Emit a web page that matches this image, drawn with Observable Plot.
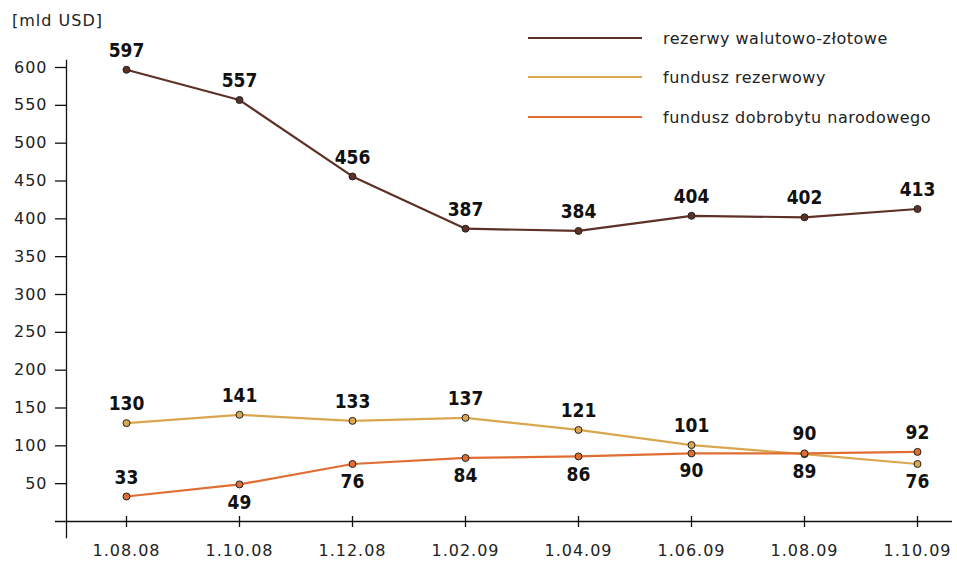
<!DOCTYPE html>
<html><head><meta charset="utf-8">
<script src="https://cdn.jsdelivr.net/npm/d3@7"></script>
<script src="https://cdn.jsdelivr.net/npm/@observablehq/plot@0.6"></script>
<style>
body{margin:0;background:#fff;}
#wrap{position:relative;width:957px;height:565px;font-family:"DejaVu Sans",sans-serif;}
.unit{position:absolute;left:12px;top:11px;font-size:16px;letter-spacing:1px;color:#222;line-height:20px;}
.legend{position:absolute;left:528px;top:0;}
.item{position:absolute;left:0;display:flex;align-items:center;white-space:nowrap;font-size:16px;letter-spacing:0.5px;color:#222;height:20px;}
.item .sw{width:114px;height:0;border-top:2.5px solid;margin-right:21px;}
g[aria-label$="tick label"] text{letter-spacing:1px;}
</style></head>
<body><div id="wrap"></div>
<script>
const dates = ["1.08.08","1.10.08","1.12.08","1.02.09","1.04.09","1.06.09","1.08.09","1.10.09"];
const seriesNames = ["rezerwy walutowo-złotowe","fundusz rezerwowy","fundusz dobrobytu narodowego"];
const rezerwy = [597,557,456,387,384,404,402,413];
const rezerwowy = [130,141,133,137,121,101,89,76];
const dobrobytu = [33,49,76,84,86,90,90,92];
const yTicks = [50,100,150,200,250,300,350,400,450,500,550,600];
const unitLabel = "[mld USD]";

const colors = ["#5e3126","#d8a74f","#e06e33"];
// which labels sit below their point (series index -> date indexes)
const below = [[], [6,7], [1,2,3,4,5]];

const seriesValues = [rezerwy, rezerwowy, dobrobytu];
const rows = [];
seriesValues.forEach((vals, s) => vals.forEach((v, i) => rows.push({
  series: seriesNames[s], date: dates[i], value: v, below: below[s].includes(i)
})));

const labelStyle = {fontFamily:"'DejaVu Sans Condensed','DejaVu Sans',sans-serif", fontWeight:"bold", fontSize:19, fill:"#111"};

const plot = Plot.plot({
  width:957, height:565, marginLeft:66, marginRight:5, marginTop:60, marginBottom:28,
  style:{fontFamily:"'DejaVu Sans',sans-serif", fontSize:"16px", color:"#222", background:"white"},
  x:{type:"point", domain:dates, range:[124,918], padding:0},
  y:{domain:[0,600], range:[521,67]},
  color:{domain:seriesNames, range:colors},
  marks:[
    Plot.frame({anchor:"left", stroke:"#111", strokeWidth:1.3}),
    Plot.ruleY([0], {stroke:"#111", strokeWidth:1.3, insetLeft:-11}),
    Plot.axisY({ticks:yTicks, tickSize:11, tickPadding:8, fontSize:16, strokeWidth:1.3, stroke:"#111", label:null}),
    Plot.axisX({tickSize:11, dy:-21, tickPadding:17, fontSize:16, strokeWidth:1.3, stroke:"#111", label:null}),
    Plot.line(rows, {x:"date", y:"value", z:"series", stroke:"series", strokeWidth:2.2}),
    Plot.dot(rows, {x:"date", y:"value", fill:"series", stroke:"#222", r:3.5, strokeWidth:1}),
    Plot.text(rows.filter(d => !d.below), {x:"date", y:"value", text:d => String(d.value), dy:-19, ...labelStyle}),
    Plot.text(rows.filter(d => d.below), {x:"date", y:"value", text:d => String(d.value), dy:18, ...labelStyle})
  ]
});

const wrap = document.getElementById("wrap");
wrap.appendChild(plot);
const unit = document.createElement("div");
unit.className = "unit"; unit.textContent = unitLabel;
wrap.appendChild(unit);
const legend = document.createElement("div");
legend.className = "legend";
const tops = [28, 67, 107];
seriesNames.forEach((name, i) => {
  const it = document.createElement("div");
  it.className = "item"; it.style.top = tops[i] + "px";
  const sw = document.createElement("span");
  sw.className = "sw"; sw.style.borderColor = colors[i];
  const tx = document.createElement("span"); tx.textContent = name;
  it.appendChild(sw); it.appendChild(tx);
  legend.appendChild(it);
});
wrap.appendChild(legend);
</script></body></html>
